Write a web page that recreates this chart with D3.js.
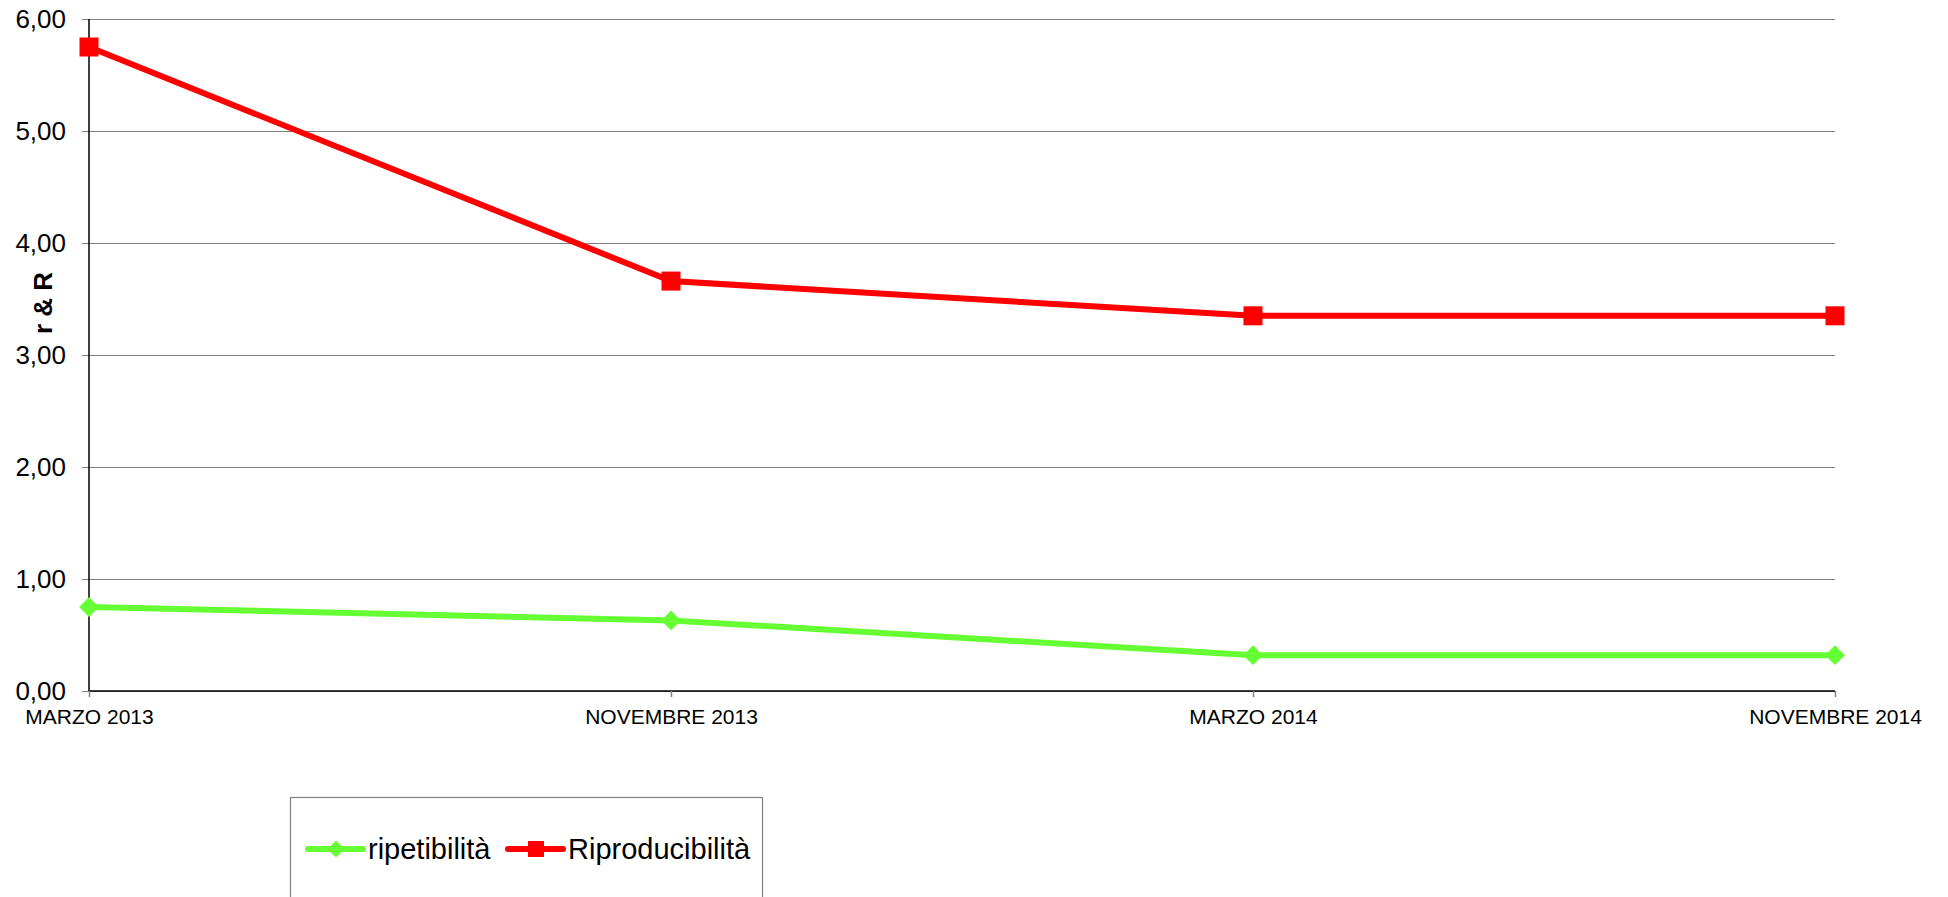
<!DOCTYPE html>
<html>
<head>
<meta charset="utf-8">
<script src="https://cdn.jsdelivr.net/npm/d3@7"></script>
<style>
  body { margin: 0; background: #fff; }
  svg { display: block; font-family: "Liberation Sans", Arial, sans-serif; }
</style>
</head>
<body>
<div id="chart"></div>
<script>
var categories = ["MARZO 2013", "NOVEMBRE 2013", "MARZO 2014", "NOVEMBRE 2014"];
var ripetibilita = [0.75, 0.63, 0.32, 0.32];
var riproducibilita = [5.75, 3.66, 3.35, 3.35];
var yTicks = [0, 1, 2, 3, 4, 5, 6];

var width = 1948, height = 897;
var margin = { top: 19, left: 89, right: 113, bottom: 206 };

var svg = d3.select("#chart").append("svg")
    .attr("width", width)
    .attr("height", height);

var x = d3.scalePoint()
    .domain(categories)
    .range([margin.left, width - margin.right])
    .padding(0);

var y = d3.scaleLinear()
    .domain([0, 6])
    .range([height - margin.bottom, margin.top]);

var fmt = function (d) { return d.toFixed(2).replace(".", ","); };

// gridlines + y labels
var yAxis = svg.append("g")
    .attr("transform", `translate(${margin.left},0)`)
    .call(d3.axisLeft(y).tickValues(yTicks).tickFormat(fmt)
        .tickSize(-(width - margin.right - margin.left)).tickPadding(23));
yAxis.select(".domain").remove();
yAxis.selectAll(".tick line")
    .attr("x1", -7)
    .attr("stroke", "#808080")
    .attr("stroke-width", 1.2);
yAxis.selectAll(".tick text")
    .style("font-size", "26px")
    .attr("fill", "#000");

// x axis
var xAxis = svg.append("g")
    .attr("transform", `translate(0,${y(0)})`)
    .call(d3.axisBottom(x).tickSize(6).tickPadding(12));
xAxis.select(".domain").attr("stroke", "#000").attr("stroke-width", 1.5)
    .attr("d", `M${margin.left},0H${width - margin.right}`);
xAxis.selectAll(".tick line").attr("stroke", "#808080").attr("stroke-width", 1.5);
xAxis.selectAll(".tick text")
    .style("font-size", "21px")
    .attr("fill", "#000");

// y axis line
svg.append("line")
    .attr("x1", margin.left).attr("x2", margin.left)
    .attr("y1", y(6)).attr("y2", y(0))
    .attr("stroke", "#000").attr("stroke-width", 1.5);

// y title
svg.append("text")
    .attr("transform", `translate(52,303) rotate(-90)`)
    .attr("text-anchor", "middle")
    .style("font-size", "26px")
    .style("font-weight", "bold")
    .text("r & R");

var line = d3.line()
    .x(function (d, i) { return x(categories[i]); })
    .y(function (d) { return y(d); });

var green = "#66FF33", red = "#FF0000";

svg.append("path")
    .datum(ripetibilita)
    .attr("d", line)
    .attr("fill", "none")
    .attr("stroke", green)
    .attr("stroke-width", 6);

svg.selectAll(".diamond")
    .data(ripetibilita)
    .join("path")
    .attr("class", "diamond")
    .attr("transform", function (d, i) { return `translate(${x(categories[i])},${y(d)}) rotate(45)`; })
    .attr("d", "M-7,-7H7V7H-7Z")
    .attr("fill", green);

svg.append("path")
    .datum(riproducibilita)
    .attr("d", line)
    .attr("fill", "none")
    .attr("stroke", red)
    .attr("stroke-width", 6);

svg.selectAll(".square")
    .data(riproducibilita)
    .join("rect")
    .attr("class", "square")
    .attr("x", function (d, i) { return x(categories[i]) - 9.5; })
    .attr("y", function (d) { return y(d) - 9.5; })
    .attr("width", 19)
    .attr("height", 19)
    .attr("fill", red);

// legend
var legend = svg.append("g");
legend.append("rect")
    .attr("x", 290.5).attr("y", 797.5)
    .attr("width", 472).attr("height", 130)
    .attr("fill", "#fff")
    .attr("stroke", "#808080")
    .attr("stroke-width", 1.2);

var items = [
    { name: "ripetibilità", color: green, shape: "diamond", x: 308 },
    { name: "Riproducibilità", color: red, shape: "square", x: 508 }
];
var ly = 849;
items.forEach(function (it) {
    legend.append("line")
        .attr("x1", it.x).attr("x2", it.x + 55)
        .attr("y1", ly).attr("y2", ly)
        .attr("stroke", it.color).attr("stroke-width", 6)
        .attr("stroke-linecap", "round");
    if (it.shape === "diamond") {
        legend.append("path")
            .attr("transform", `translate(${it.x + 28},${ly}) rotate(45)`)
            .attr("d", "M-6,-6H6V6H-6Z")
            .attr("fill", it.color);
    } else {
        legend.append("rect")
            .attr("x", it.x + 20).attr("y", ly - 8)
            .attr("width", 16).attr("height", 16)
            .attr("fill", it.color);
    }
    legend.append("text")
        .attr("x", it.x + 60).attr("y", ly + 10)
        .style("font-size", "29px")
        .text(it.name);
});
</script>
</body>
</html>
